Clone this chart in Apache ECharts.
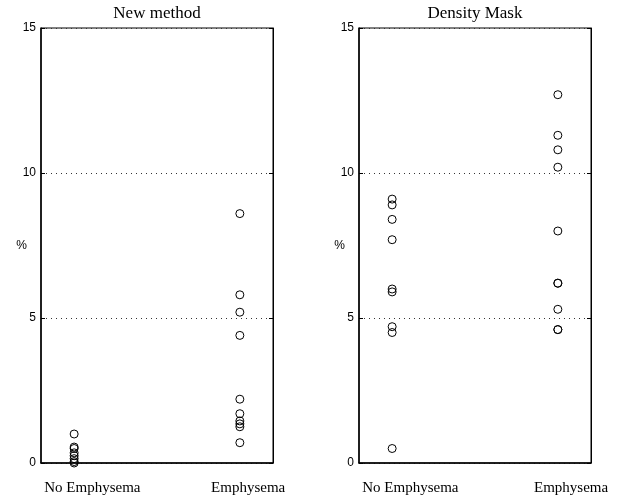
<!DOCTYPE html>
<html>
<head>
<meta charset="utf-8">
<script src="https://cdn.jsdelivr.net/npm/echarts@6/dist/echarts.min.js"></script>
<style>html,body{margin:0;padding:0;background:#fff}#c{width:620px;height:497px}</style>
</head>
<body>
<div id="c"></div>
<script>
var panelTitles = ['New method', 'Density Mask'];
var categories = ['No Emphysema', 'Emphysema'];
var yTicks = [0, 5, 10, 15];
var newNoEmph = [1.0, 0.55, 0.5, 0.35, 0.25, 0.15, 0.05, 0.0];
var newEmph = [8.6, 5.8, 5.2, 4.4, 2.2, 1.7, 1.45, 1.35, 1.25, 0.7];
var densNoEmph = [9.1, 8.9, 8.4, 7.7, 6.0, 5.9, 4.7, 4.5, 0.5];
var densEmph = [12.7, 11.3, 10.8, 10.2, 8.0, 6.2, 6.2, 5.3, 4.6, 4.6];

var chart = echarts.init(document.getElementById('c'));
var serif = '"Liberation Serif", "DejaVu Serif", serif';
var sans = '"Liberation Sans", Arial, sans-serif';
var grids = [
  {left: 41, top: 28, width: 232, height: 435, show: true, borderColor: '#000', borderWidth: 1},
  {left: 359, top: 28, width: 232, height: 435, show: true, borderColor: '#000', borderWidth: 1}
];
var labelPos = [[1.11, 2.05], [1.11, 2.08]];
function xAxis(i) {
  return {
    type: 'value', gridIndex: i, min: 0.8, max: 2.2,
    axisLine: {show: true, onZero: false, lineStyle: {color: '#000', width: 1.5}},
    axisTick: {show: false},
    splitLine: {show: false},
    axisLabel: {
      customValues: labelPos[i], margin: 18,
      fontFamily: serif, fontSize: 15, color: '#000',
      formatter: function (v) { return v < 1.5 ? categories[0] : categories[1]; }
    }
  };
}
function yAxis(i, right) {
  return {
    type: 'value', gridIndex: i, min: yTicks[0], max: yTicks[yTicks.length - 1], interval: 5,
    position: right ? 'right' : 'left',
    name: right ? '' : '%', nameLocation: 'middle', nameRotate: 0, nameGap: 14,
    nameMoveOverlap: false,
    nameTextStyle: {fontFamily: sans, fontSize: 12, color: '#000', padding: [4, 0, 0, 0]},
    axisLine: {show: true, lineStyle: {color: '#000', width: right ? 1 : 1.5}},
    axisTick: {show: true, inside: true, length: 4, lineStyle: {color: '#000'}},
    axisLabel: {show: !right, margin: 5, fontFamily: sans, fontSize: 12, color: '#000'},
    splitLine: {show: !right, lineStyle: {type: [1, 4], color: '#333', width: 1}}
  };
}
function pts(arr, x) { return arr.map(function (v) { return [x, v]; }); }
function sc(data, xi, yi) {
  return {
    type: 'scatter', xAxisIndex: xi, yAxisIndex: yi, data: data,
    symbol: 'circle', symbolSize: 8, silent: true,
    itemStyle: {color: 'rgba(0,0,0,0)', borderColor: '#000', borderWidth: 1, opacity: 1}
  };
}
chart.setOption({
  animation: false,
  backgroundColor: '#fff',
  title: [
    {text: panelTitles[0], left: 152, top: 0, textAlign: 'center',
     textStyle: {fontFamily: serif, fontSize: 17, fontWeight: 'normal', color: '#000'}},
    {text: panelTitles[1], left: 470, top: 0, textAlign: 'center',
     textStyle: {fontFamily: serif, fontSize: 17, fontWeight: 'normal', color: '#000'}}
  ],
  grid: grids,
  xAxis: [xAxis(0), xAxis(1)],
  yAxis: [yAxis(0, false), yAxis(0, true), yAxis(1, false), yAxis(1, true)],
  series: [
    sc(pts(newNoEmph, 1), 0, 0),
    sc(pts(newEmph, 2), 0, 0),
    sc(pts(densNoEmph, 1), 1, 2),
    sc(pts(densEmph, 2), 1, 2)
  ]
});
</script>
</body>
</html>
